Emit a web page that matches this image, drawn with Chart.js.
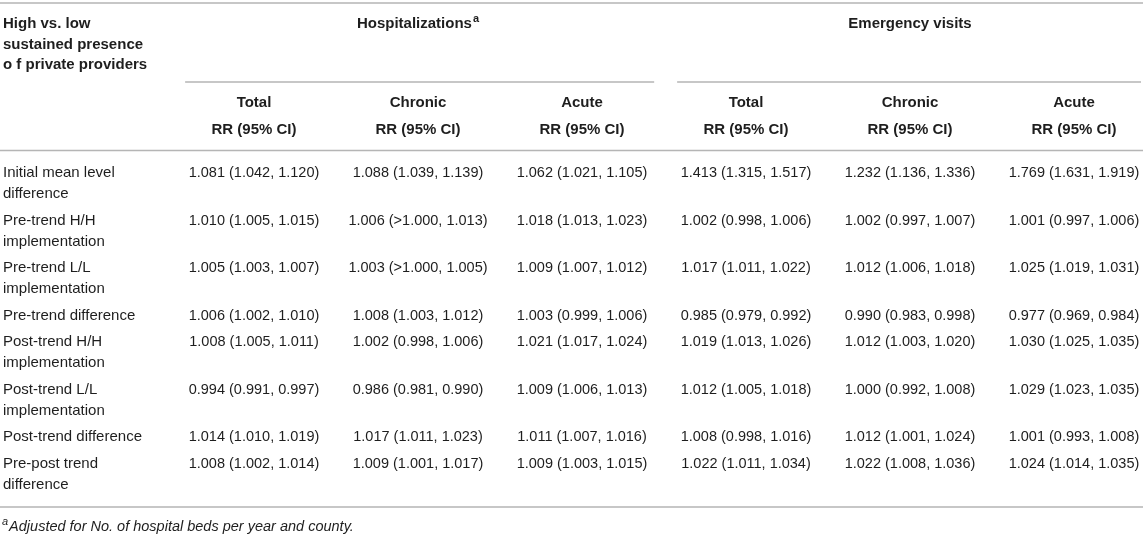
<!DOCTYPE html>
<html>
<head>
<meta charset="utf-8">
<script src="https://cdn.jsdelivr.net/npm/chart.js@4.4.0/dist/chart.umd.min.js"></script>
<style>
  html, body { margin: 0; padding: 0; background: #ffffff; }
  #rr-table { display: block; }
</style>
</head>
<body>
<canvas id="rr-table" width="1143" height="534"></canvas>
<script>
// table content
const cornerLabel = ['High vs. low', 'sustained presence', 'o f private providers'];
const groupLabels = ['Hospitalizations', 'Emergency visits'];
const groupNotes = ['a', ''];
const measureLabels = ['Total', 'Chronic', 'Acute', 'Total', 'Chronic', 'Acute'];
const estimateLabel = 'RR (95% CI)';
const rowLabels = [
  ['Initial mean level', 'difference'],
  ['Pre-trend H/H', 'implementation'],
  ['Pre-trend L/L', 'implementation'],
  ['Pre-trend difference'],
  ['Post-trend H/H', 'implementation'],
  ['Post-trend L/L', 'implementation'],
  ['Post-trend difference'],
  ['Pre-post trend', 'difference']
];
const hospTotal = ['1.081 (1.042, 1.120)', '1.010 (1.005, 1.015)', '1.005 (1.003, 1.007)', '1.006 (1.002, 1.010)',
  '1.008 (1.005, 1.011)', '0.994 (0.991, 0.997)', '1.014 (1.010, 1.019)', '1.008 (1.002, 1.014)'];
const hospChronic = ['1.088 (1.039, 1.139)', '1.006 (>1.000, 1.013)', '1.003 (>1.000, 1.005)', '1.008 (1.003, 1.012)',
  '1.002 (0.998, 1.006)', '0.986 (0.981, 0.990)', '1.017 (1.011, 1.023)', '1.009 (1.001, 1.017)'];
const hospAcute = ['1.062 (1.021, 1.105)', '1.018 (1.013, 1.023)', '1.009 (1.007, 1.012)', '1.003 (0.999, 1.006)',
  '1.021 (1.017, 1.024)', '1.009 (1.006, 1.013)', '1.011 (1.007, 1.016)', '1.009 (1.003, 1.015)'];
const emergTotal = ['1.413 (1.315, 1.517)', '1.002 (0.998, 1.006)', '1.017 (1.011, 1.022)', '0.985 (0.979, 0.992)',
  '1.019 (1.013, 1.026)', '1.012 (1.005, 1.018)', '1.008 (0.998, 1.016)', '1.022 (1.011, 1.034)'];
const emergChronic = ['1.232 (1.136, 1.336)', '1.002 (0.997, 1.007)', '1.012 (1.006, 1.018)', '0.990 (0.983, 0.998)',
  '1.012 (1.003, 1.020)', '1.000 (0.992, 1.008)', '1.012 (1.001, 1.024)', '1.022 (1.008, 1.036)'];
const emergAcute = ['1.769 (1.631, 1.919)', '1.001 (0.997, 1.006)', '1.025 (1.019, 1.031)', '0.977 (0.969, 0.984)',
  '1.030 (1.025, 1.035)', '1.029 (1.023, 1.035)', '1.001 (0.993, 1.008)', '1.024 (1.014, 1.035)'];
const footnoteMark = 'a';
const footnoteText = 'Adjusted for No. of hospital beds per year and county.';

const columns = [hospTotal, hospChronic, hospAcute, emergTotal, emergChronic, emergAcute];
const groupColumns = [[1, 2, 3], [4, 5, 6]];

// layout (pixels)
const W = 1143, H = 534;
const colStep = 164, firstColCenter = 254;
const bodyTop = 152, lineH = 21, rowGap = 5.5;
const fontFamily = '"Liberation Sans", Arial, Helvetica, sans-serif';
const textColor = '#1e1e1e';
const ruleColor = '#b5b5b5';

const xMin = 1 - firstColCenter / colStep;
const xMax = xMin + W / colStep;

// y of first line of each row, built from the line counts
let rowY = [];
let rowTop = bodyTop;
for (const lines of rowLabels) {
  rowY.push(rowTop + lineH);
  rowTop += rowGap + lineH * lines.length;
}

let datasets = [{
  label: 'rows',
  data: rowLabels.map((r, i) => ({ x: xMin, y: rowY[i] })),
  cells: rowLabels,
  pointRadius: 0
}];
columns.forEach((col, c) => {
  datasets.push({
    label: 'col' + (c + 1),
    data: col.map((v, i) => ({ x: c + 1, y: rowY[i] })),
    cells: col,
    pointRadius: 0
  });
});

const tablePlugin = {
  id: 'tableText',
  afterDatasetsDraw(chart) {
    const ctx = chart.ctx;
    const xs = chart.scales.x, ys = chart.scales.y;
    const left = chart.chartArea.left, right = chart.chartArea.right;
    ctx.save();

    //rules
    ctx.strokeStyle = ruleColor;
    ctx.lineWidth = 1.5;
    const hline = (x1, x2, y) => {
      ctx.beginPath();
      ctx.moveTo(x1, ys.getPixelForValue(y));
      ctx.lineTo(x2, ys.getPixelForValue(y));
      ctx.stroke();
    };
    hline(left, right, 3);
    hline(left, right, 150.5);
    hline(left, right, 507);
    groupColumns.forEach((g) => {
      const x1 = xs.getPixelForValue(g[0] - 0.42);
      const x2 = Math.min(xs.getPixelForValue(g[g.length - 1] + 0.44), right - 2);
      hline(x1, x2, 82);
    });

    ctx.fillStyle = textColor;
    ctx.textBaseline = 'middle';

    //header
    ctx.font = 'bold 15px ' + fontFamily;
    ctx.textAlign = 'left';
    cornerLabel.forEach((t, k) => ctx.fillText(t, left + 3, ys.getPixelForValue(24 + k * 20.5)));

    groupLabels.forEach((t, g) => {
      const cols = groupColumns[g];
      const cx = xs.getPixelForValue((cols[0] + cols[cols.length - 1]) / 2);
      ctx.font = 'bold 15px ' + fontFamily;
      const w = ctx.measureText(t).width;
      ctx.font = 'bold 11px ' + fontFamily;
      const wn = groupNotes[g] ? ctx.measureText(groupNotes[g]).width + 1 : 0;
      const x0 = cx - (w + wn) / 2;
      const y = ys.getPixelForValue(24);
      ctx.textAlign = 'left';
      ctx.font = 'bold 15px ' + fontFamily;
      ctx.fillText(t, x0, y);
      if (groupNotes[g]) {
        ctx.font = 'bold 11px ' + fontFamily;
        ctx.fillText(groupNotes[g], x0 + w + 1, y - 5);
      }
    });

    ctx.font = 'bold 15px ' + fontFamily;
    ctx.textAlign = 'center';
    measureLabels.forEach((t, c) => {
      const x = xs.getPixelForValue(c + 1);
      ctx.fillText(t, x, ys.getPixelForValue(103));
      ctx.fillText(estimateLabel, x, ys.getPixelForValue(129.5));
    });

    //body cells from dataset points
    chart.data.datasets.forEach((ds, d) => {
      const meta = chart.getDatasetMeta(d);
      meta.data.forEach((pt, i) => {
        const cell = ds.cells[i];
        if (d === 0) {
          ctx.font = '15px ' + fontFamily;
          ctx.textAlign = 'left';
          cell.forEach((line, k) => ctx.fillText(line, pt.x + 3, pt.y + k * lineH));
        } else {
          ctx.font = '14.5px ' + fontFamily;
          ctx.textAlign = 'center';
          ctx.fillText(cell, pt.x, pt.y);
        }
      });
    });

    //footnote
    const fy = ys.getPixelForValue(527);
    ctx.textAlign = 'left';
    ctx.font = 'italic 11px ' + fontFamily;
    ctx.fillText(footnoteMark, left + 2, fy - 5);
    const mw = ctx.measureText(footnoteMark).width;
    ctx.font = 'italic 14.5px ' + fontFamily;
    ctx.fillText(footnoteText, left + 2 + mw + 1, fy);

    ctx.restore();
  }
};

const chartBox = document.getElementById('rr-table');
const chart = new Chart(chartBox, {
  type: 'scatter',
  data: { datasets: datasets },
  options: {
    responsive: false,
    animation: false,
    events: [],
    layout: { padding: 0 },
    plugins: {
      legend: { display: false },
      tooltip: { enabled: false }
    },
    scales: {
      x: { type: 'linear', display: false, min: xMin, max: xMax },
      y: { type: 'linear', display: false, min: 0, max: H, reverse: true }
    }
  },
  plugins: [tablePlugin]
});
</script>
</body>
</html>
